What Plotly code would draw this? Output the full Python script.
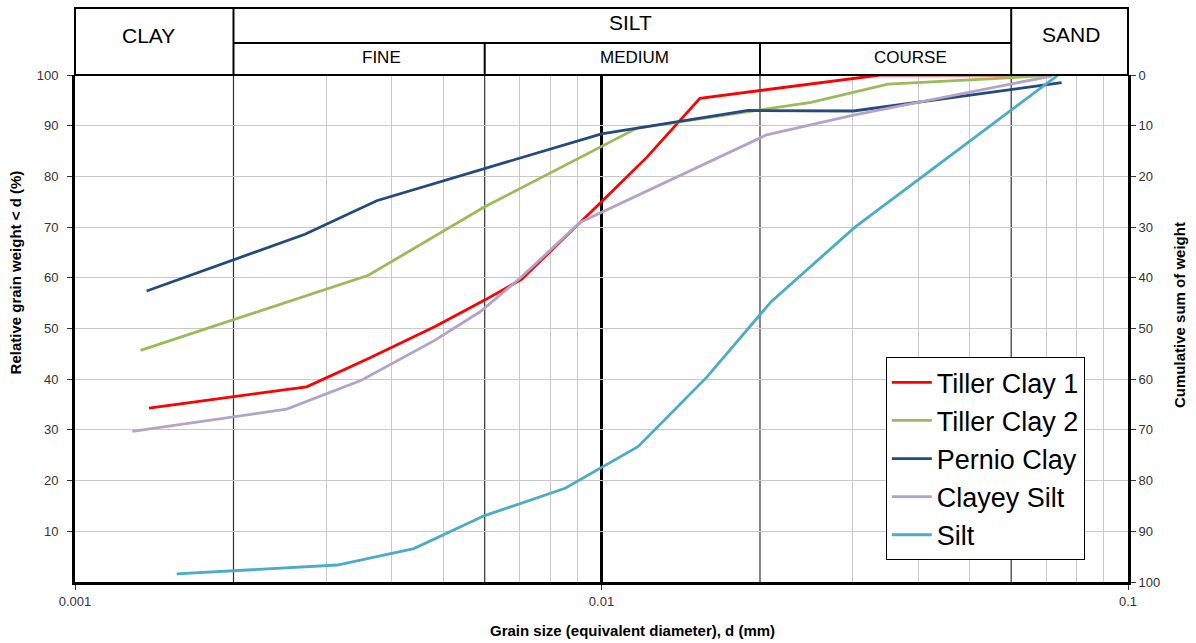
import numpy as np
import plotly.graph_objects as go

# ---------------- data ----------------
series_names = ["Tiller Clay 1", "Tiller Clay 2", "Pernio Clay", "Clayey Silt", "Silt"]
series_colors = ["#ff0000", "#9bbb59", "#254a7c", "#b3a3c9", "#4bacc6"]

tiller1_d = [0.001382, 0.002754, 0.00361, 0.00483, 0.0060, 0.00705, 0.0100, 0.0122, 0.01538, 0.0301, 0.0338, 0.060]
tiller1_v = [34.3, 38.5, 44.1, 50.4, 55.6, 59.7, 75.0, 83.8, 95.4, 99.3, 100.0, 100.0]

tiller2_d = [0.001332, 0.002734, 0.003607, 0.0060, 0.01166, 0.025, 0.035, 0.0605, 0.072]
tiller2_v = [45.7, 56.3, 60.5, 74.0, 89.5, 94.6, 98.2, 99.5, 100.0]

pernio_d = [0.001368, 0.002734, 0.003741, 0.0100, 0.0190, 0.0301, 0.0748]
pernio_v = [57.4, 68.6, 75.2, 88.4, 93.0, 92.9, 98.5]

clayey_d = [0.001285, 0.002524, 0.0035, 0.00483, 0.00588, 0.0070, 0.0091, 0.0206, 0.0301, 0.0716]
clayey_v = [29.7, 34.1, 39.8, 47.7, 53.3, 59.9, 70.9, 88.2, 92.1, 99.8]

silt_d = [0.00156, 0.00315, 0.0044, 0.0060, 0.00853, 0.0100, 0.01173, 0.01585, 0.0210, 0.0303, 0.0737]
silt_v = [1.6, 3.35, 6.6, 13.1, 18.5, 22.6, 26.7, 40.4, 55.3, 70.0, 100.0]

x_tick_vals = [0.001, 0.01, 0.1]
x_tick_text = ["0.001", "0.01", "0.1"]
left_tick_vals = [10, 20, 30, 40, 50, 60, 70, 80, 90, 100]
right_tick_vals = [0, 10, 20, 30, 40, 50, 60, 70, 80, 90, 100]
minor_grid_vals = [k * 10.0 ** e for e in (-3, -2) for k in (3, 4, 5, 7, 8, 9)]

# class boundaries (mm)
clay_silt = 0.002
fine_medium = 0.006
medium_coarse = 0.02
silt_sand = 0.06
main_line = 0.01

X_LOG_RANGE = (-3, -1)


def xpaper(d):
    return (np.log10(d) - X_LOG_RANGE[0]) / (X_LOG_RANGE[1] - X_LOG_RANGE[0])


FONT = "Liberation Sans, Arial, sans-serif"

fig = go.Figure()
all_d = [tiller1_d, tiller2_d, pernio_d, clayey_d, silt_d]
all_v = [tiller1_v, tiller2_v, pernio_v, clayey_v, silt_v]
for name, col, d, v in zip(series_names, series_colors, all_d, all_v):
    fig.add_trace(go.Scatter(x=d, y=v, mode="lines", name=name,
                             line=dict(color=col, width=2.8), hoverinfo="x+y+name"))

# invisible trace to create the reversed right axis
fig.add_trace(go.Scatter(x=[0.01], y=[50], yaxis="y2", mode="markers",
                         marker=dict(opacity=0), showlegend=False, hoverinfo="skip"))

shapes = []
# dark class-boundary lines inside the plot
for d in (clay_silt, fine_medium, medium_coarse, silt_sand):
    shapes.append(dict(type="line", xref="x", yref="paper", x0=d, x1=d, y0=0, y1=1,
                       line=dict(color="#333333", width=1.2), layer="between"))
shapes.append(dict(type="line", xref="x", yref="paper", x0=main_line, x1=main_line, y0=0, y1=1,
                   line=dict(color="#000000", width=3), layer="between"))

# header table
H_TOP = 1.1321
H_MID = 1.0631
hl = dict(color="black", width=2)
shapes.append(dict(type="rect", xref="paper", yref="paper", x0=0, x1=1, y0=1, y1=H_TOP, line=hl))
for d in (clay_silt, silt_sand):
    shapes.append(dict(type="line", xref="paper", yref="paper", x0=xpaper(d), x1=xpaper(d),
                       y0=1, y1=H_TOP, line=hl))
for d in (fine_medium, medium_coarse):
    shapes.append(dict(type="line", xref="paper", yref="paper", x0=xpaper(d), x1=xpaper(d),
                       y0=1, y1=H_MID, line=hl))
shapes.append(dict(type="line", xref="paper", yref="paper", x0=xpaper(clay_silt), x1=xpaper(silt_sand),
                   y0=H_MID, y1=H_MID, line=hl))

annotations = []
big = dict(family=FONT, size=21, color="black")
small = dict(family=FONT, size=17, color="black")
for txt, x, y, f in [("CLAY", 0.0698, 1.0783, big), ("SILT", 0.528, 1.1040, big),
                     ("SAND", 0.9463, 1.0789, big), ("FINE", 0.2906, 1.0351, small),
                     ("MEDIUM", 0.5309, 1.0351, small), ("COURSE", 0.7939, 1.0351, small)]:
    annotations.append(dict(text=txt, x=x, y=y, xref="paper", yref="paper", showarrow=False,
                            xanchor="center", yanchor="middle", font=f))

title_font = dict(family=FONT, size=15, color="black")
annotations.append(dict(text="<b>Grain size (equivalent diameter), d (mm)</b>", x=0.5294, y=-0.0947,
                        xref="paper", yref="paper", showarrow=False, xanchor="center",
                        yanchor="middle", font=dict(family=FONT, size=15, color="black")))
annotations.append(dict(text="<b>Relative grain weight < d (%)</b>", x=-0.057, y=0.6105,
                        xref="paper", yref="paper", showarrow=False, textangle=-90,
                        xanchor="center", yanchor="middle", font=title_font))
annotations.append(dict(text="<b>Cumulative sum of weight</b>", x=1.0484, y=0.5266,
                        xref="paper", yref="paper", showarrow=False, textangle=-90,
                        xanchor="center", yanchor="middle", font=title_font))

tick_font = dict(family=FONT, size=13, color="#333333")

fig.update_layout(
    width=1196, height=643,
    margin=dict(l=75, r=68, t=75, b=61),
    plot_bgcolor="white", paper_bgcolor="white",
    font=dict(family=FONT),
    shapes=shapes,
    annotations=annotations,
    showlegend=True,
    legend=dict(x=0.770, y=0.4432, xanchor="left", yanchor="top",
                bgcolor="white", bordercolor="black", borderwidth=1,
                font=dict(family=FONT, size=27, color="black"),
                itemwidth=40, tracegroupgap=0),
    xaxis=dict(type="log", range=list(X_LOG_RANGE), tickmode="array",
               tickvals=x_tick_vals, ticktext=x_tick_text, showgrid=False,
               ticks="outside", ticklen=5, tickcolor="#333333", tickwidth=1,
               showline=True, linewidth=3, linecolor="black", mirror=False,
               tickfont=tick_font, zeroline=False,
               minor=dict(tickmode="array", tickvals=minor_grid_vals, showgrid=True,
                          gridcolor="#c9c9c9", gridwidth=1, ticks="")),
    yaxis=dict(range=[0, 100], tickmode="array", tickvals=left_tick_vals,
               showgrid=True, gridcolor="#c9c9c9", gridwidth=1,
               ticks="outside", ticklen=5, tickcolor="#333333",
               showline=True, linewidth=3, linecolor="black", zeroline=False,
               tickfont=tick_font, ticklabelstandoff=6),
    yaxis2=dict(range=[100, 0], overlaying="y", side="right", tickmode="array",
                tickvals=right_tick_vals, showgrid=False, ticks="outside", ticklen=5,
                tickcolor="#333333", showline=True, linewidth=3, linecolor="black",
                zeroline=False, tickfont=tick_font),
)

fig.write_html("out.html")
